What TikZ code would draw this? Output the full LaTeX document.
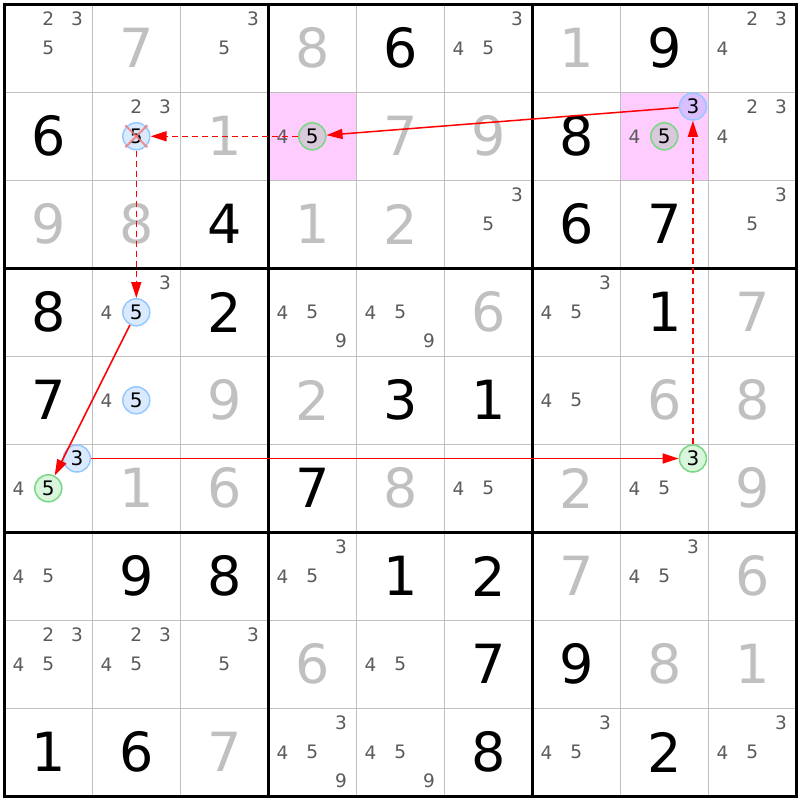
\documentclass[tikz,border=0pt]{standalone}
\usepackage{fontspec}
\setmainfont{DejaVu Sans}
\usetikzlibrary{arrows.meta}
\definecolor{thingrid}{RGB}{192,192,192}
\definecolor{solvedc}{RGB}{192,192,192}
\definecolor{candc}{RGB}{90,90,90}
\definecolor{pinkbg}{RGB}{255,204,255}
\definecolor{bluering}{RGB}{150,200,255}
\definecolor{greenring}{RGB}{120,215,130}
\definecolor{bluefill}{RGB}{0,120,255}
\definecolor{greenfill}{RGB}{0,190,20}
\definecolor{xred}{RGB}{240,120,120}
\definecolor{linkred}{RGB}{255,0,0}
\tikzset{
  given/.style={inner sep=0pt, font=\fontsize{54}{54}\selectfont, text=black},
  solved/.style={inner sep=0pt, font=\fontsize{54}{54}\selectfont, text=solvedc},
  cand/.style={inner sep=0pt, font=\fontsize{18.5}{18.5}\selectfont, text=candc},
  hlbase/.style={circle, inner sep=0pt, minimum size=27pt, line width=1.5pt, fill opacity=0.15, text opacity=1, font=\fontsize{20}{20}\selectfont, text=black},
  hlblue/.style={hlbase, draw=bluering, fill=bluefill},
  hlgreen/.style={hlbase, draw=greenring, fill=greenfill},
  link/.style={draw=linkred, color=linkred, line width=1.5pt, -{Triangle[length=16pt,width=10pt]}},
  weaklink/.style={link, dash pattern=on 6pt off 4pt},
  gridthin/.style={draw=thingrid, line width=1.5pt},
  gridthick/.style={draw=black, line width=3pt},
}
\def\offs{{14.2,44,72.6}}
\newcommand\G[3]{\node[given] (n#1#2) at ({4.3+88*(#2-0.5)},{4.3+88*(#1-0.5)}) {#3};}
\newcommand\Sv[3]{\node[solved] (n#1#2) at ({4.3+88*(#2-0.5)},{4.3+88*(#1-0.5)}) {#3};}
\newcommand\Cd[3]{%
  \foreach \k in {#3}{%
    \pgfmathsetmacro\cx{4.3+88*(#2-1)+\offs[mod(\k-1,3)]}%
    \pgfmathsetmacro\cy{4.3+88*(#1-1)+\offs[floor((\k-1)/3)]}%
    \node[cand] (c#1#2\k) at (\cx,\cy) {\k};
  }}
\newcommand\Hl[4]{%
  \pgfmathsetmacro\cx{4.3+88*(#2-1)+\offs[mod(#3-1,3)]}%
  \pgfmathsetmacro\cy{4.3+88*(#1-1)+\offs[floor((#3-1)/3)]}%
  \node[#4] (c#1#2#3) at (\cx,\cy) {#3};}
\begin{document}
\begin{tikzpicture}[x=1pt,y=-1pt]
\useasboundingbox (0,0) rectangle (800,800);
\fill[white] (0,0) rectangle (800,800);
% pink cells
\fill[pinkbg] (268.3,92.3) rectangle (356.3,180.3);
\fill[pinkbg] (620.3,92.3) rectangle (708.3,180.3);
% grid
\foreach \i in {1,2,4,5,7,8}{
  \draw[gridthin] ({4.3+88*\i},4.3) -- ({4.3+88*\i},796.3);
  \draw[gridthin] (4.3,{4.3+88*\i}) -- (796.3,{4.3+88*\i});
}
\foreach \i in {0,3,6,9}{
  \draw[gridthick] ({4.3+88*\i},2.8) -- ({4.3+88*\i},797.8);
  \draw[gridthick] (2.8,{4.3+88*\i}) -- (797.8,{4.3+88*\i});
}
% row 1
\Cd{1}{1}{2,3,5} \Sv{1}{2}{7} \Cd{1}{3}{3,5} \Sv{1}{4}{8} \G{1}{5}{6}
\Cd{1}{6}{3,4,5} \Sv{1}{7}{1} \G{1}{8}{9} \Cd{1}{9}{2,3,4}
% row 2
\G{2}{1}{6} \Cd{2}{2}{2,3} \Sv{2}{3}{1} \Cd{2}{4}{4} \Sv{2}{5}{7} \Sv{2}{6}{9}
\G{2}{7}{8} \Cd{2}{8}{4} \Cd{2}{9}{2,3,4}
% row 3
\Sv{3}{1}{9} \Sv{3}{2}{8} \G{3}{3}{4} \Sv{3}{4}{1} \Sv{3}{5}{2} \Cd{3}{6}{3,5}
\G{3}{7}{6} \G{3}{8}{7} \Cd{3}{9}{3,5}
% row 4
\G{4}{1}{8} \Cd{4}{2}{3,4} \G{4}{3}{2} \Cd{4}{4}{4,5,9} \Cd{4}{5}{4,5,9} \Sv{4}{6}{6}
\Cd{4}{7}{3,4,5} \G{4}{8}{1} \Sv{4}{9}{7}
% row 5
\G{5}{1}{7} \Cd{5}{2}{4} \Sv{5}{3}{9} \Sv{5}{4}{2} \G{5}{5}{3} \G{5}{6}{1}
\Cd{5}{7}{4,5} \Sv{5}{8}{6} \Sv{5}{9}{8}
% row 6
\Cd{6}{1}{4} \Sv{6}{2}{1} \Sv{6}{3}{6} \G{6}{4}{7} \Sv{6}{5}{8} \Cd{6}{6}{4,5}
\Sv{6}{7}{2} \Cd{6}{8}{4,5} \Sv{6}{9}{9}
% row 7
\Cd{7}{1}{4,5} \G{7}{2}{9} \G{7}{3}{8} \Cd{7}{4}{3,4,5} \G{7}{5}{1} \G{7}{6}{2}
\Sv{7}{7}{7} \Cd{7}{8}{3,4,5} \Sv{7}{9}{6}
% row 8
\Cd{8}{1}{2,3,4,5} \Cd{8}{2}{2,3,4,5} \Cd{8}{3}{3,5} \Sv{8}{4}{6} \Cd{8}{5}{4,5} \G{8}{6}{7}
\G{8}{7}{9} \Sv{8}{8}{8} \Sv{8}{9}{1}
% row 9
\G{9}{1}{1} \G{9}{2}{6} \Sv{9}{3}{7} \Cd{9}{4}{3,4,5,9} \Cd{9}{5}{4,5,9} \G{9}{6}{8}
\Cd{9}{7}{3,4,5} \G{9}{8}{2} \Cd{9}{9}{3,4,5}
% highlighted candidates
\Hl{2}{2}{5}{hlblue}
\Hl{2}{4}{5}{hlgreen}
\Hl{2}{8}{3}{hlblue}
\Hl{2}{8}{5}{hlgreen}
\Hl{4}{2}{5}{hlblue}
\Hl{5}{2}{5}{hlblue}
\Hl{6}{1}{3}{hlblue}
\Hl{6}{1}{5}{hlgreen}
\Hl{6}{8}{3}{hlgreen}
% elimination cross
\draw[xred, line width=2pt, opacity=0.8] ([shift={(-11,-11)}]c225.center) -- ([shift={(11,11)}]c225.center);
\draw[xred, line width=2pt, opacity=0.8] ([shift={(-11,11)}]c225.center) -- ([shift={(11,-11)}]c225.center);
% links
\draw[link] (c283) -- (c245);
\draw[weaklink] (c245) -- (c225);
\draw[weaklink] (c225) -- (c425);
\draw[link] (c425) -- (c615);
\draw[link] (c613) -- (c683);
\draw[weaklink] (c683.north) -- (c283.south);
\end{tikzpicture}
\end{document}
